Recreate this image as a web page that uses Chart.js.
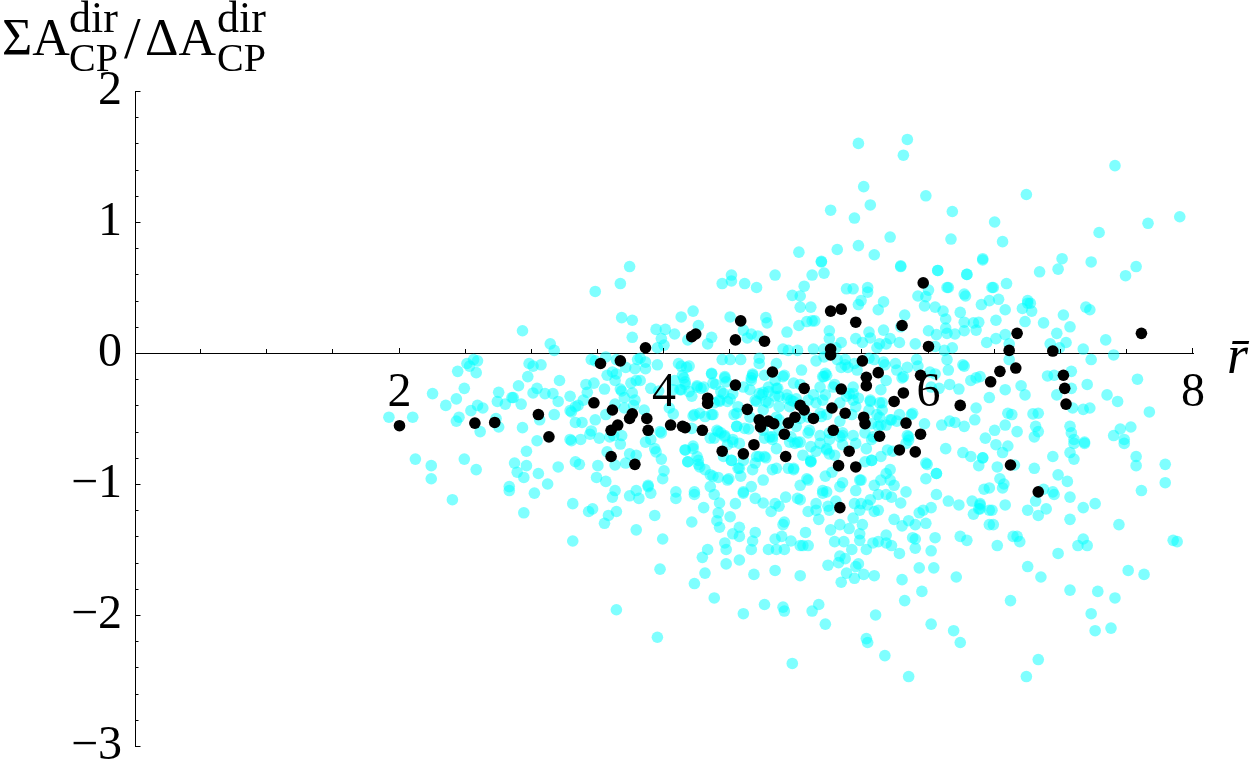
<!DOCTYPE html>
<html>
<head>
<meta charset="utf-8">
<title>Scatter</title>
<script src="https://cdn.jsdelivr.net/npm/chart.js@4/dist/chart.umd.min.js"></script>
<style>
  html, body { margin: 0; padding: 0; background: #fff; }
  canvas { display: block; }
</style>
</head>
<body>
<canvas id="scatter" width="1250" height="777"></canvas>
<script>
const xMajorTicks = [2, 4, 6, 8];
const xMinorTicks = [0.5, 1, 1.5, 2.5, 3, 3.5, 4.5, 5, 5.5, 6.5, 7, 7.5];
const yMajorTicks = [2, 1, 0, -1, -2, -3];
const yMinorTicks = [1.8, 1.6, 1.4, 1.2, 0.8, 0.6, 0.4, 0.2, -0.2, -0.4, -0.6, -0.8, -1.2, -1.4, -1.6, -1.8, -2.2, -2.4, -2.6, -2.8];

// [rbar, ratio]
const cyanPoints = [
  [1.92,-0.49],[2.10,-0.49],[2.25,-0.31],[2.35,-0.40],[2.43,-0.35],[2.49,-0.27],[2.44,-0.14],[2.51,-0.08],[2.53,-0.10],[2.56,-0.05],
  [2.59,-0.06],[2.58,-0.15],[2.54,-0.44],[2.59,-0.40],[2.63,-0.42],[2.45,-0.49],[2.43,-0.52],[2.61,-0.60],[2.73,-0.50],[2.75,-0.565],
  [2.75,-0.30],[2.74,-0.37],[2.80,-0.39],[2.85,-0.34],[2.86,-0.34],[2.92,-0.39],[2.90,-0.25],[2.97,-0.18],[2.98,-0.08],[3.01,-0.10],
  [3.07,-0.09],[3.04,-0.27],[3.01,-0.305],[3.10,-0.31],[3.16,-0.31],[3.20,-0.37],[3.21,-0.21],[2.93,-0.57],[3.06,-0.51],[3.17,-0.47],
  [3.04,-0.67],[2.96,-0.75],[2.12,-0.81],[2.24,-0.86],[2.24,-0.96],[2.49,-0.81],[2.58,-0.89],[2.87,-0.84],[2.96,-0.86],[2.89,-0.91],
  [2.94,-0.95],[3.05,-0.92],[3.12,-1.00],[2.83,-1.02],[2.83,-1.05],[3.02,-1.07],[3.20,-0.87],[2.40,-1.12],[2.93,0.17],[3.14,0.07],
  [3.17,0.02],[3.48,0.47],[3.67,0.53],[3.74,0.66],[3.68,0.27],[3.76,0.25],[3.76,0.12],[3.94,0.18],[4.01,0.18],[4.08,0.145],
  [4.13,0.275],[3.98,0.11],[4.00,0.06],[3.95,0.04],[4.18,0.10],[3.29,-0.33],[3.41,-0.24],[3.47,-0.23],[3.42,-0.30],[3.55,-0.275],
  [3.39,-0.36],[3.35,-0.40],[3.33,-0.41],[3.29,-0.44],[3.30,-0.45],[3.33,-0.53],[3.38,-0.53],[3.48,-0.51],[3.45,-0.595],[3.44,-0.62],
  [3.51,-0.65],[3.29,-0.66],[3.30,-0.67],[3.37,-0.66],[3.33,-0.83],[3.36,-0.85],[3.50,-0.86],[3.49,-0.95],[3.56,-0.98],[3.63,-0.855],
  [3.57,-0.755],[3.71,-0.84],[3.74,-0.77],[3.79,-0.78],[3.98,-0.81],[4.00,-0.90],[3.99,-0.96],[3.63,-1.05],[3.74,-1.09],[3.79,-1.05],
  [3.88,-1.01],[3.90,-1.07],[3.88,-1.02],[4.09,-1.06],[3.61,-1.10],[3.81,-1.11],[4.09,-1.11],[3.45,-0.05],[3.48,-0.06],[3.56,-0.03],
  [3.64,-0.05],[3.71,-0.11],[3.57,-0.17],[3.61,-0.145],[3.64,-0.16],[3.63,-0.21],[3.67,-0.275],[3.68,-0.29],[3.70,-0.34],[3.76,-0.305],
  [3.75,-0.23],[3.79,-0.21],[3.82,-0.21],[3.80,-0.05],[3.82,-0.04],[3.86,-0.07],[3.86,-0.12],[3.78,-0.12],[3.95,-0.09],[3.90,-0.27],
  [3.96,-0.29],[3.78,-0.36],[3.77,-0.40],[3.70,-0.42],[3.85,-0.435],[4.04,-0.42],[4.07,-0.465],[3.63,-0.39],[3.56,-0.47],[3.62,-0.63],
  [3.68,-0.63],[3.59,-0.64],[3.67,-0.695],[3.86,-0.68],[3.90,-0.66],[3.93,-0.73],[3.94,-0.755],[3.97,-0.60],[3.98,-0.61],[4.16,-0.74],
  [4.18,-0.83],[4.08,-0.21],[4.07,-0.28],[4.12,-0.28],[4.11,-0.08],[4.13,-0.10],[4.17,-0.11],[4.15,-0.19],[4.16,-0.24],[4.19,-0.295],
  [4.22,0.32],[4.26,0.21],[4.33,0.07],[4.36,0.12],[4.44,0.53],[4.51,0.595],[4.51,0.55],[4.61,0.53],[4.70,0.50],[4.84,0.595],
  [4.50,0.275],[4.77,0.27],[4.78,0.23],[4.60,0.175],[4.66,0.145],[4.71,0.13],[4.63,0.115],[4.93,0.16],[5.02,0.21],[5.08,0.24],
  [5.12,0.245],[5.14,0.245],[4.97,0.44],[5.03,0.435],[5.06,0.51],[5.12,0.595],[5.21,0.61],[5.19,0.695],[5.03,0.35],[5.11,0.35],
  [5.38,0.49],[5.43,0.49],[5.54,0.50],[5.54,0.465],[5.49,0.40],[5.47,0.37],[5.66,0.39],[5.62,0.33],[5.79,0.665],[6.07,0.63],
  [6.29,0.60],[6.41,0.71],[6.48,0.50],[6.14,0.50],[5.92,0.435],[5.98,0.43],[5.97,0.36],[6.05,0.35],[6.11,0.32],[6.13,0.26],
  [6.24,0.31],[6.27,0.45],[6.28,0.435],[6.40,0.37],[6.46,0.40],[6.53,0.41],[6.51,0.25],[6.27,0.235],[6.34,0.23],[6.38,0.235],
  [6.27,0.17],[6.36,0.175],[6.13,0.19],[6.14,0.15],[6.20,0.145],[6.00,0.17],[6.06,0.14],[6.44,0.08],[6.51,0.11],[6.18,0.04],
  [6.12,0.02],[6.05,0.05],[5.90,0.07],[5.82,0.29],[5.79,0.20],[5.78,0.08],[5.71,0.11],[5.68,0.07],[5.63,0.07],[5.66,0.175],
  [5.61,0.04],[5.45,0.11],[5.55,0.16],[5.56,0.115],[5.50,0.08],[5.25,0.17],[5.25,0.11],[5.34,0.08],[5.30,0.04],[5.21,0.03],
  [5.13,0.03],[5.01,0.02],[4.94,0.02],[4.90,0.03],[4.44,-0.05],[4.50,-0.05],[4.58,-0.05],[4.72,-0.04],[4.72,-0.08],[4.85,-0.08],
  [4.91,-0.17],[5.04,-0.13],[5.15,-0.06],[5.21,-0.03],[5.23,-0.17],[5.21,-0.18],[5.31,-0.05],[5.37,-0.05],[5.34,-0.11],[5.39,-0.11],
  [5.44,-0.08],[5.46,-0.13],[5.55,-0.04],[5.59,-0.05],[5.66,-0.07],[5.75,-0.08],[5.76,-0.13],[5.84,-0.11],[5.80,-0.19],[5.68,-0.21],
  [5.91,-0.05],[5.92,-0.10],[6.01,-0.145],[6.05,-0.16],[6.14,-0.05],[6.15,-0.13],[6.26,-0.09],[6.27,-0.10],[6.02,-0.26],[6.08,-0.27],
  [6.16,-0.24],[6.23,-0.275],[6.32,-0.21],[6.36,-0.19],[6.39,-0.18],[6.46,-0.34],[6.36,-0.42],[6.35,-0.51],[6.10,-0.55],[6.16,-0.52],
  [6.20,-0.53],[6.27,-0.56],[6.43,-0.65],[6.50,-0.59],[6.13,-0.73],[6.26,-0.76],[6.32,-0.79],[6.41,-0.80],[6.38,-0.86],[6.51,-0.70],
  [5.99,-0.85],[6.06,-0.92],[5.85,-0.665],[5.84,-0.63],[5.78,-0.47],[5.87,-0.47],[5.72,-0.51],[5.64,-0.55],[5.65,-0.38],[5.65,-0.435],
  [5.56,-0.36],[5.43,-0.31],
  [4.14,-0.17],[4.19,-0.10],[4.16,-0.22],[4.13,-0.28],[4.25,-0.25],[4.30,-0.26],[4.36,-0.16],[4.46,-0.18],[4.47,-0.22],[4.39,-0.24],
  [4.50,-0.35],[4.42,-0.37],[4.38,-0.38],[4.27,-0.46],[4.22,-0.48],[4.37,-0.47],[4.53,-0.47],[4.45,-0.31],[4.16,-0.74],[4.22,-0.71],
  [4.25,-0.79],[4.18,-0.83],[4.26,-0.85],[4.31,-0.89],[4.37,-0.94],[4.41,-0.95],[4.48,-0.97],[4.35,-1.02],[4.23,-1.06],[4.43,-0.61],
  [4.46,-0.64],[4.52,-0.68],[4.55,-0.56],[4.64,-0.58],[4.35,-0.65],[4.60,-0.82],[4.51,-0.82],[4.56,-0.88],[4.58,-0.94],[4.66,-1.02],
  [4.75,-0.97],[4.60,-1.06],[4.77,-0.80],[4.72,-0.79],[4.69,-0.84],[4.82,-0.66],[4.80,-0.64],[4.75,-0.59],[4.87,-0.59],[4.96,-0.64],
  [4.99,-0.69],[5.05,-0.78],[5.11,-0.83],[5.09,-0.61],[5.01,-0.68],[5.18,-0.69],[5.23,-0.74],[5.25,-0.77],[5.33,-0.64],[5.35,-0.70],
  [5.25,-0.61],[5.35,-0.61],[5.45,-0.69],[5.57,-0.82],[5.64,-0.79],[5.58,-0.64],[5.68,-0.55],[5.73,-0.75],[5.68,-0.92],[5.71,-0.97],
  [5.64,-0.97],[5.49,-0.97],[5.45,-1.05],[5.33,-1.02],[5.20,-1.05],[5.23,-1.06],[5.09,-0.97],[5.03,-1.01],[4.98,-0.89],[4.94,-0.88],
  [4.85,-0.88],[4.67,-0.17],[4.66,-0.19],[4.75,-0.30],[4.79,-0.26],[4.85,-0.27],[4.72,-0.31],[4.69,-0.36],[4.77,-0.37],[4.87,-0.33],
  [4.93,-0.32],[4.96,-0.36],[5.00,-0.35],[4.87,-0.41],[4.85,-0.49],[4.95,-0.41],[5.13,-0.32],[5.09,-0.36],[5.20,-0.18],[5.18,-0.26],
  [5.28,-0.26],[5.20,-0.36],[5.23,-0.47],[5.33,-0.38],[5.40,-0.31],[5.43,-0.36],[5.45,-0.41],[5.55,-0.435],[5.63,-0.49],[5.57,-0.54],
  [5.18,-0.46],[5.09,-0.49],[5.00,-0.56],[4.87,-0.51],[4.75,-0.435],[4.65,-0.49],[4.56,-0.41],[4.52,-0.31],[4.60,-0.26],[4.45,-0.79],
  [4.40,-0.59],
  [5.47,1.60],[5.51,1.27],[5.56,1.13],[5.26,1.09],[5.44,1.03],[5.02,0.77],[5.31,0.79],[5.47,0.82],[5.59,0.75],[5.19,0.70],
  [5.84,1.63],[5.81,1.51],[7.41,1.43],[5.98,1.20],[6.74,1.21],[6.18,1.08],[6.50,1.00],[7.90,1.04],[7.66,0.99],[7.29,0.92],
  [5.71,0.885],[6.17,0.87],[6.56,0.85],[6.41,0.72],[7.01,0.72],[5.79,0.66],[6.07,0.63],[6.29,0.60],[6.98,0.64],[6.84,0.62],
  [7.23,0.695],[7.57,0.66],[7.49,0.59],[6.59,0.53],[6.49,0.50],[6.15,0.50],[6.00,0.48],[6.75,0.40],[6.77,0.38],[7.19,0.35],
  [6.75,0.38],[6.71,0.34],[6.78,0.32],[6.58,0.33],[6.73,0.24],[6.87,0.23],[7.02,0.29],[7.07,0.20],[7.22,0.33],[6.97,0.15],
  [7.04,0.08],[6.92,0.07],[6.99,0.04],[7.34,0.10],[7.17,0.03],[7.40,-0.015],[7.23,-0.05],[6.58,0.14],[6.61,0.07],[6.61,-0.05],
  [6.90,-0.175],[6.95,-0.17],[7.08,-0.14],[7.20,-0.24],[7.08,-0.27],[6.97,-0.32],[6.70,-0.25],[6.58,-0.28],[6.73,-0.32],[7.58,-0.20],
  [7.35,-0.32],[7.43,-0.37],[7.67,-0.45],[7.09,-0.42],[7.17,-0.43],[7.22,-0.42],[6.60,-0.46],[6.63,-0.47],[6.79,-0.465],[6.83,-0.46],
  [6.58,-0.55],[6.67,-0.60],[6.81,-0.56],[6.83,-0.60],[6.80,-0.64],[7.07,-0.56],[7.08,-0.61],[7.53,-0.565],[7.45,-0.58],[7.40,-0.63],
  [7.48,-0.66],[7.10,-0.66],[7.18,-0.68],
  [6.60,-0.71],[6.56,-0.76],[6.41,-0.80],[6.52,-0.87],[6.65,-0.855],[6.80,-0.88],[6.94,-0.79],[7.07,-0.76],[7.10,-0.81],[7.10,-0.69],
  [7.18,-0.69],[7.48,-0.69],[7.57,-0.79],[7.57,-0.86],[7.79,-0.85],[7.79,-0.99],[7.61,-1.05],[6.98,-0.93],[7.05,-0.98],[7.07,-1.10],
  [6.54,-0.96],[6.57,-1.00],[6.56,-1.03],[6.46,-1.03],[6.42,-1.04],[6.87,-1.04],[6.94,-1.06],[6.95,-1.08],[6.81,-1.13],[6.58,-1.16],
  [6.48,-1.20],[6.39,-1.16],[6.39,-1.19],[6.75,-1.20],[6.89,-1.19],[6.83,-1.24],[7.17,-1.18],[7.26,-1.15],[7.07,-1.27],[6.49,-1.31],
  [7.44,-1.31],[6.64,-1.40],[6.67,-1.40],[6.69,-1.44],[6.52,-1.47],[6.98,-1.53],[7.17,-1.42],[7.13,-1.47],[7.20,-1.47],[7.85,-1.43],
  [7.88,-1.44],[6.75,-1.63],[6.85,-1.71],[7.51,-1.66],[7.63,-1.69],[7.07,-1.81],[7.28,-1.82],[7.41,-1.87],[6.62,-1.89],[7.23,-1.99],
  [7.38,-2.10],[7.26,-2.12],[6.83,-2.34],[6.74,-2.47],
  [2.94,-1.22],[3.31,-1.15],[3.43,-1.21],[3.46,-1.19],[3.31,-1.435],[3.55,-1.30],[3.58,-1.24],[3.64,-1.21],[3.93,-1.24],[3.79,-1.35],
  [3.99,-1.42],[3.64,-1.96],[3.97,-1.65],[3.95,-2.17],[4.23,-1.08],[4.30,-1.18],[4.38,-1.08],[4.42,-1.145],[4.41,-1.22],[4.40,-1.28],
  [4.42,-1.33],[4.21,-1.29],[4.54,-1.15],[4.50,-1.25],[4.57,-1.33],[4.52,-1.38],[4.57,-1.40],[4.69,-1.37],[4.67,-1.435],[4.66,-1.50],
  [4.46,-1.45],[4.47,-1.50],[4.33,-1.50],[4.29,-1.56],[4.47,-1.61],[4.57,-1.58],[4.31,-1.68],[4.23,-1.76],[4.38,-1.87],[4.68,-1.69],
  [4.84,-1.66],[4.76,-1.92],[4.60,-1.99],[4.90,-1.94],[4.91,-1.97],[4.97,-2.37],[4.69,-1.11],[4.75,-1.145],[4.84,-1.15],[4.87,-1.17],
  [4.81,-1.21],[4.92,-1.10],[5.01,-1.11],[4.91,-1.29],[4.90,-1.31],[4.84,-1.42],[4.89,-1.40],[4.96,-1.435],[4.79,-1.50],[4.85,-1.50],
  [4.91,-1.50],[5.03,-1.47],[5.03,-1.70],[4.60,-1.07],
  [5.03,-1.12],[5.15,-1.15],[5.09,-1.21],[5.15,-1.20],[5.17,-1.27],[5.24,-1.17],[5.25,-1.20],[5.20,-1.07],[5.30,-1.13],[5.44,-1.15],
  [5.48,-1.20],[5.49,-1.15],[5.56,-1.12],[5.54,-1.16],[5.59,-1.21],[5.62,-1.20],[5.62,-1.08],[5.68,-1.08],[5.72,-1.10],[5.79,-1.145],
  [5.83,-1.06],[5.74,-1.27],[5.85,-1.28],[5.80,-1.32],[5.90,-1.31],[5.98,-1.30],[5.93,-1.22],[5.96,-1.20],[6.02,-1.18],[6.06,-1.08],
  [6.15,-1.13],[6.23,-1.16],[6.33,-1.13],[6.34,-1.23],[6.39,-1.15],[6.38,-1.19],[6.46,-1.20],[6.46,-1.31],[5.07,-1.37],[5.05,-1.47],
  [5.09,-1.47],[5.29,-1.44],[5.36,-1.44],[5.26,-1.35],[5.33,-1.31],[5.43,-1.26],[5.50,-1.31],[5.40,-1.34],[5.48,-1.38],[5.48,-1.43],
  [5.42,-1.50],[5.53,-1.50],[5.58,-1.45],[5.62,-1.44],[5.68,-1.39],[5.68,-1.45],[5.72,-1.47],[5.78,-1.53],[5.88,-1.41],[5.90,-1.42],
  [5.90,-1.49],[6.02,-1.51],[6.05,-1.41],[6.24,-1.40],[6.29,-1.43],[5.33,-1.55],[5.37,-1.57],[5.32,-1.60],[5.24,-1.62],[5.47,-1.61],
  [5.45,-1.63],[5.38,-1.68],[5.34,-1.75],[5.44,-1.72],[5.51,-1.69],[5.59,-1.70],[5.93,-1.64],[6.04,-1.64],[6.21,-1.71],[5.80,-1.73],
  [5.95,-1.82],[5.82,-1.89],[5.17,-1.92],[5.12,-1.97],[5.22,-2.07],[5.60,-2.00],[6.02,-2.07],[6.19,-2.12],[6.24,-2.21],[5.53,-2.18],
  [5.54,-2.21],[5.67,-2.31],[5.85,-2.47],
  [4.36,-0.155],[4.46,-0.19],[4.37,-0.23],[4.25,-0.26],[4.28,-0.27],[4.21,-0.33],[4.43,-0.295],[4.42,-0.36],[4.48,-0.37],[4.67,-0.16],
  [4.66,-0.21],[4.76,-0.17],[4.84,-0.21],[4.90,-0.18],[4.98,-0.23],[5.03,-0.24],[4.65,-0.28],[4.74,-0.32],[4.79,-0.295],[4.86,-0.27],
  [4.93,-0.345],[4.84,-0.33],[4.98,-0.37],[4.79,-0.38],[4.70,-0.37],[4.55,-0.46],[4.23,-0.47],[4.31,-0.485],[4.36,-0.47],[4.21,-0.575],
  [4.41,-0.60],[4.46,-0.63],[4.55,-0.56],[4.61,-0.575],[4.52,-0.66],[4.57,-0.69],[4.48,-0.70],[4.76,-0.65],[4.82,-0.64],[4.95,-0.68],
  [5.03,-0.68],[5.10,-0.59],[5.11,-0.715],[4.85,-0.73],[4.76,-0.79],[4.70,-0.79],[4.51,-0.82],[4.22,-0.73],[4.26,-0.82],[4.27,-0.87],
  [4.35,-0.93],[4.49,-0.96],[4.57,-0.88],[4.67,-0.89],[4.82,-0.89],[4.98,-0.88],[5.11,-0.83],[5.08,-0.96],[4.38,-0.65],[5.03,-0.50],
  [5.22,-0.155],[5.37,-0.09],[5.67,-0.09],[5.81,-0.18],[5.64,-0.28],[5.29,-0.24],[5.43,-0.26],[5.15,-0.38],[5.22,-0.32],[5.38,-0.33],
  [5.47,-0.345],[5.56,-0.37],[5.63,-0.38],[5.19,-0.485],[5.33,-0.52],[5.42,-0.47],[5.61,-0.47],[5.62,-0.56],[5.71,-0.51],[5.76,-0.52],
  [5.88,-0.46],[5.97,-0.54],[5.18,-0.63],[5.25,-0.66],[5.35,-0.63],[5.43,-0.63],[5.52,-0.61],[5.57,-0.66],[5.23,-0.73],[5.15,-0.75],
  [5.29,-0.78],[5.53,-0.73],[5.69,-0.74],[5.85,-0.64],[5.83,-0.69],[5.11,-0.82],[5.98,-0.84],[5.52,-0.83],[5.57,-0.82],[5.71,-0.89],
  [5.22,-0.94],[5.27,-0.91],[5.48,-0.97],[5.59,-1.01],[5.74,-1.01],[5.98,-0.96],[6.06,-0.92],[5.35,-0.99]
];

const blackPoints = [
  [2.00,-0.555],[2.57,-0.535],[2.72,-0.53],[3.05,-0.47],[3.13,-0.64],[3.47,-0.38],[3.52,-0.08],[3.67,-0.06],[3.61,-0.435],[3.60,-0.59],
  [3.65,-0.55],[3.60,-0.79],[3.78,-0.85],[3.74,-0.50],[3.76,-0.465],[3.86,0.04],[3.87,-0.50],[3.88,-0.59],[4.05,-0.55],[4.14,-0.56],
  [4.16,-0.57],[4.21,0.125],[4.24,0.145],[4.29,-0.59],[4.33,-0.345],[4.33,-0.385],[4.58,0.245],[4.54,0.10],[4.76,0.09],[4.54,-0.245],
  [4.82,-0.145],[4.63,-0.43],[4.44,-0.75],[4.60,-0.77],[4.68,-0.70],[4.72,-0.51],[4.73,-0.565],[4.79,-0.52],[4.83,-0.54],[4.92,-0.79],
  [4.91,-0.62],[4.94,-0.535],[4.99,-0.49],[5.03,-0.40],[5.06,-0.435],[5.06,-0.27],[5.13,-0.50],[5.26,0.32],[5.34,0.335],[5.45,0.235],
  [5.26,0.03],[5.26,-0.015],[5.50,-0.06],[5.53,-0.185],[5.53,-0.25],[5.62,-0.15],[5.34,-0.275],[5.27,-0.42],[5.37,-0.46],[5.28,-0.59],
  [5.51,-0.49],[5.52,-0.54],[5.63,-0.635],[5.40,-0.75],[5.32,-0.86],[5.45,-0.87],[5.74,-0.37],[5.81,-0.305],[5.80,0.21],[5.96,0.535],
  [6.00,0.05],[5.94,-0.17],[5.83,-0.535],[5.94,-0.62],[5.78,-0.74],[5.90,-0.755],[6.24,-0.40],[6.47,-0.22],[6.54,-0.14],[6.61,0.02],
  [6.67,0.15],[6.66,-0.115],[6.94,0.015],[7.61,0.15],[7.02,-0.17],[7.03,-0.27],[7.04,-0.39],[6.62,-0.855],[6.83,-1.06],[5.33,-1.18]
];

const toXY = pts => pts.map(p => ({ x: p[0], y: p[1] }));

const serif = '"Liberation Serif", serif';

// ticks and the two axis captions, placed from the scales
const axisExtras = {
  id: 'axisExtras',
  afterDatasetsDraw(chart) {
    const { ctx, scales: { x, y } } = chart;
    const y0 = Math.round(y.getPixelForValue(0));
    const x0 = Math.round(x.getPixelForValue(0)) + 0.5;
    ctx.save();
    ctx.strokeStyle = '#000';
    ctx.lineWidth = 1;
    ctx.beginPath();
    xMajorTicks.forEach(v => {
      const px = Math.round(x.getPixelForValue(v)) - 0.5;
      ctx.moveTo(px, y0); ctx.lineTo(px, y0 - 5);
    });
    xMinorTicks.forEach(v => {
      const px = Math.round(x.getPixelForValue(v)) - 0.5;
      ctx.moveTo(px, y0); ctx.lineTo(px, y0 - 4);
    });
    yMajorTicks.forEach(v => {
      const py = Math.round(y.getPixelForValue(v)) + 0.5;
      ctx.moveTo(x0, py); ctx.lineTo(x0 + 5, py);
    });
    yMinorTicks.forEach(v => {
      const py = Math.round(y.getPixelForValue(v)) + 0.5;
      ctx.moveTo(x0, py); ctx.lineTo(x0 + 3, py);
    });
    ctx.stroke();

    ctx.fillStyle = '#000';
    ctx.textAlign = 'left';
    ctx.textBaseline = 'alphabetic';
    ctx.font = '52px ' + serif;
    ctx.fillText('ΣA', 2, 55);
    ctx.fillText('ΔA', 145, 55);
    ctx.font = '60px ' + serif;
    ctx.fillText('/', 124, 58);
    ctx.font = '44px ' + serif;
    ctx.fillText('dir', 69, 32);
    ctx.fillText('dir', 217, 32);
    ctx.font = '40px ' + serif;
    ctx.fillText('CP', 69, 71);
    ctx.fillText('CP', 217, 71);
    ctx.font = 'italic 54px ' + serif;
    ctx.fillText('r̄', 1227, 373);
    ctx.restore();
  }
};

new Chart(document.getElementById('scatter'), {
  type: 'scatter',
  data: {
    datasets: [
      { data: toXY(blackPoints), backgroundColor: '#000', pointRadius: 5.8, borderWidth: 0, order: 1 },
      { data: toXY(cyanPoints), backgroundColor: 'rgba(0,255,255,0.5)', pointRadius: 5.8, borderWidth: 0, order: 2 }
    ]
  },
  options: {
    responsive: false,
    animation: false,
    events: [],
    layout: { padding: { left: 0, right: 57, top: 91, bottom: 31 } },
    plugins: { legend: { display: false }, tooltip: { enabled: false } },
    scales: {
      x: {
        type: 'linear',
        position: { y: 0 },
        min: 0,
        max: 8,
        afterFit(scale) { scale.paddingLeft = 0; scale.paddingRight = 0; },
        grid: { display: false, drawTicks: false },
        border: { color: '#000', width: 1 },
        ticks: {
          stepSize: 2,
          padding: 12,
          z: 1,
          maxRotation: 0,
          color: '#000',
          font: { family: serif, size: 48 },
          callback: v => (xMajorTicks.includes(v) ? String(v) : '')
        }
      },
      y: {
        type: 'linear',
        position: 'left',
        min: -3,
        max: 2,
        afterFit(scale) { scale.width = 135; scale.paddingTop = 0; scale.paddingBottom = 0; },
        grid: { display: false, drawTicks: false },
        border: { color: '#000', width: 1 },
        ticks: {
          stepSize: 1,
          padding: 13,
          z: 1,
          color: '#000',
          font: { family: serif, size: 48 },
          callback: v => String(v).replace('-', '\u2212')
        }
      }
    }
  },
  plugins: [axisExtras]
});
</script>
</body>
</html>
